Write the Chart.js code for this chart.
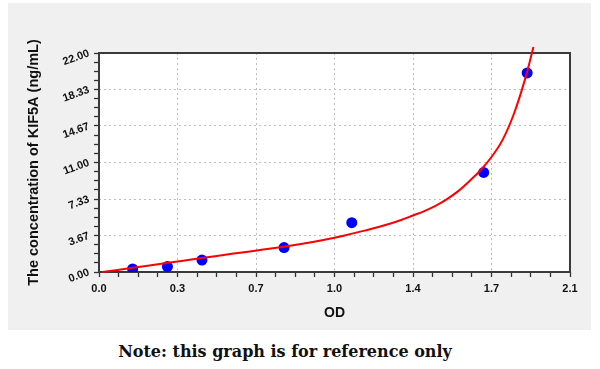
<!DOCTYPE html>
<html>
<head>
<meta charset="utf-8">
<script src="https://cdn.jsdelivr.net/npm/chart.js@4.4.1/dist/chart.umd.min.js"></script>
<style>
  body { margin: 0; background: #fff; width: 600px; height: 369px; position: relative; overflow: hidden; }
  #panel { position: absolute; left: 8px; top: 3px; width: 583px; height: 327px; background: #f0f0f0; }
  #note { position: absolute; left: 0; top: 342px; width: 570px; text-align: center;
          font: bold 16px "DejaVu Serif", serif; line-height: 20px; color: #111; }
</style>
</head>
<body>
<div id="panel"><canvas id="graphic"></canvas></div>
<div id="note">Note: this graph is for reference only</div>
<script>
// standard points
var odValues = [0.150, 0.305, 0.459, 0.825, 1.127, 1.715, 1.909];
var concValues = [0.30, 0.55, 1.20, 2.45, 4.95, 10.0, 20.0];

// fitted curve
var curveOD = [0.015, 0.15, 0.3, 0.45, 0.6, 0.75, 0.9, 1.0, 1.1, 1.2, 1.25, 1.3, 1.35, 1.4, 1.45,
               1.5, 1.55, 1.6, 1.65, 1.7, 1.75, 1.8, 1.85, 1.9, 1.937];
var curveConc = [0, 0.42, 0.9, 1.38, 1.85, 2.3, 2.82, 3.22, 3.7, 4.25, 4.55, 4.88, 5.25, 5.68, 6.12,
                 6.65, 7.3, 8.1, 9.1, 10.2, 11.55, 13.3, 15.9, 19.4, 22.6];

// axis ticks
var xTicks = [0, 0.35, 0.7, 1.05, 1.4, 1.75, 2.1];
var xTickLabels = ['0.0', '0.3', '0.7', '1.0', '1.4', '1.7', '2.1'];
var yTicks = [0, 3.67, 7.33, 11, 14.67, 18.33, 22];
var yTickLabels = ['0.00', '3.67', '7.33', '11.00', '14.67', '18.33', '22.00'];

function withMinor(majors) {
    var out = [];
    for (var i = 0; i < majors.length; i++) {
        out.push({ value: majors[i], major: true });
        if (i < majors.length - 1) {
            var step = (majors[i + 1] - majors[i]) / 4;
            for (var k = 1; k < 4; k++) out.push({ value: majors[i] + step * k, major: false });
        }
    }
    return out;
}

function labelFor(majors, labels) {
    return function (value) {
        for (var i = 0; i < majors.length; i++) {
            if (Math.abs(value - majors[i]) < 1e-6) return labels[i];
        }
        return '';
    };
}

function gridColor(ctx) {
    var t = ctx.tick;
    if (!t || !t.major || ctx.index === 0 || ctx.index === ctx.scale.ticks.length - 1) return 'rgba(0,0,0,0)';
    return '#bdbdbd';
}

var plotBox = {
    id: 'plotBox',
    beforeDraw: function (chart) {
        var c = chart.ctx, a = chart.chartArea;
        c.save();
        c.fillStyle = '#ffffff';
        c.fillRect(a.left, a.top, a.right - a.left, a.bottom - a.top);
        c.restore();
    },
    beforeDatasetsDraw: function (chart) {
        var c = chart.ctx, a = chart.chartArea;
        c.save();
        c.strokeStyle = '#3a3a3a';
        c.lineWidth = 2;
        c.strokeRect(a.left, a.top, a.right - a.left, a.bottom - a.top);
        c.restore();
    }
};

var curve = curveOD.map(function (x, i) { return { x: x, y: curveConc[i] }; });
var points = odValues.map(function (x, i) { return { x: x, y: concValues[i] }; });

var graphic = document.getElementById('graphic').getContext('2d');
var chart = new Chart(graphic, {
    type: 'scatter',
    data: {
        datasets: [{
            data: curve,
            showLine: true,
            borderColor: '#ff0000',
            borderWidth: 2,
            pointRadius: 0,
            tension: 0.4,
            clip: false
        }, {
            data: points,
            pointRadius: 5.5,
            backgroundColor: '#0000ff',
            borderWidth: 0
        }]
    },
    options: {
        responsive: true,
        maintainAspectRatio: false,
        animation: false,
        layout: { padding: { top: 50, right: 21, left: 0, bottom: 0 } },
        plugins: { legend: { display: false }, tooltip: { enabled: false } },
        scales: {
            x: {
                type: 'linear',
                min: 0,
                max: 2.1,
                afterBuildTicks: function (scale) { scale.ticks = withMinor(xTicks); },
                afterFit: function (scale) { scale.height = 58; },
                grid: { color: gridColor, tickColor: '#333', tickLength: 5, lineWidth: 1, tickWidth: 1.3 },
                border: { display: false, dash: [2, 3] },
                ticks: {
                    autoSkip: false,
                    maxRotation: 0,
                    padding: 5,
                    color: '#111',
                    font: { family: 'Liberation Sans', size: 11, weight: 'bold' },
                    callback: labelFor(xTicks, xTickLabels)
                },
                title: {
                    display: true,
                    text: 'OD',
                    color: '#111',
                    padding: { top: 0, bottom: 8 },
                    font: { family: 'Liberation Sans', size: 14, weight: 'bold' }
                }
            },
            y: {
                type: 'linear',
                min: 0,
                max: 22,
                afterBuildTicks: function (scale) { scale.ticks = withMinor(yTicks); },
                afterFit: function (scale) { scale.width = 91; },
                grid: { color: gridColor, tickColor: '#333', tickLength: 5, lineWidth: 1, tickWidth: 1.3 },
                border: { display: false, dash: [2, 3] },
                ticks: {
                    autoSkip: false,
                    minRotation: 20,
                    maxRotation: 20,
                    padding: 5,
                    color: '#111',
                    font: { family: 'Liberation Sans', size: 11, weight: 'bold' },
                    callback: labelFor(yTicks, yTickLabels)
                },
                title: {
                    display: true,
                    text: 'The concentration of KIF5A (ng/mL)',
                    color: '#111',
                    padding: { top: 17, bottom: 0 },
                    font: { family: 'Liberation Sans', size: 14.5, weight: 'bold' }
                }
            }
        }
    },
    plugins: [plotBox]
});
</script>
</body>
</html>
